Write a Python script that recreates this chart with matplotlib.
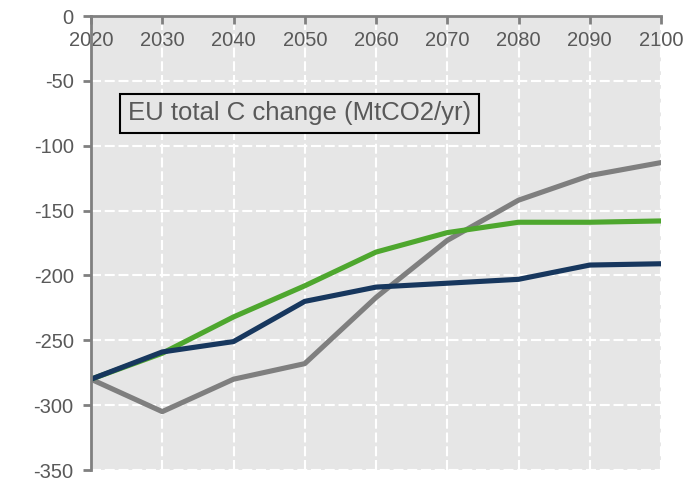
import matplotlib
matplotlib.use("Agg")
import matplotlib.pyplot as plt

years = [2020, 2030, 2040, 2050, 2060, 2070, 2080, 2090, 2100]
green = [-280, -260, -232, -208, -182, -167, -159, -159, -158]
navy = [-280, -259, -251, -220, -209, -206, -203, -192, -191]
grey = [-280, -305, -280, -268, -217, -173, -142, -123, -113]

plt.rcParams['font.family'] = ['Liberation Sans', 'DejaVu Sans']
plt.rcParams['axes.unicode_minus'] = False

fig = plt.figure(figsize=(6.87, 4.8), dpi=100)
ax = fig.add_axes([91/687, 10/480, 570/687, 454/480])
ax.set_facecolor('#e6e6e6')

ax.plot(years, grey, color='#7f7f7f', lw=3.7, solid_capstyle='round', zorder=3)
ax.plot(years, green, color='#4ea72e', lw=3.7, solid_capstyle='round', zorder=4)
ax.plot(years, navy, color='#17375e', lw=3.7, solid_capstyle='round', zorder=5)

ax.set_xlim(2020, 2100)
ax.set_ylim(-350, 0)
ax.set_xticks(years)
ax.set_yticks(range(-350, 1, 50))
ax.grid(True, color='white', ls=(0, (4.8, 1.8)), lw=1.5, zorder=1)
ax.set_axisbelow(True)

for s in ['top', 'right']:
    ax.spines[s].set_visible(False)
ax.spines['bottom'].set_position(('data', 0))
for s in ['left', 'bottom']:
    ax.spines[s].set_color('#808080')
    ax.spines[s].set_linewidth(2)
    ax.spines[s].set_zorder(6)
ax.tick_params(axis='both', colors='#808080', width=2, length=5.5, labelsize=14.5,
               labelcolor='#595959', direction='out')
ax.tick_params(axis='x', pad=5)
ax.tick_params(axis='y', pad=7)

ax.text(2025.2, -75, 'EU total C change (MtCO2/yr)', fontsize=18.5, color='#595959',
        va='center', ha='left', zorder=7,
        bbox=dict(boxstyle='square,pad=0.3', facecolor='#e6e6e6', edgecolor='black', lw=1.5))

fig.savefig('out.png', dpi=100)
